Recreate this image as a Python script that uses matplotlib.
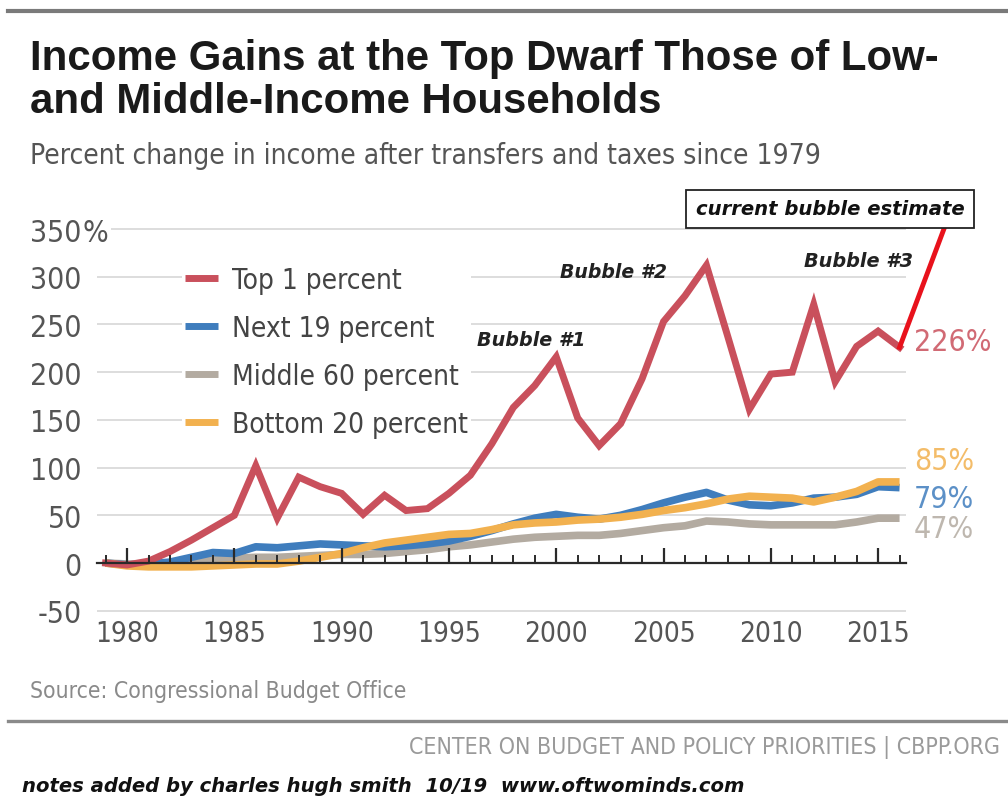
import matplotlib
matplotlib.use("Agg")
import matplotlib.pyplot as plt
from matplotlib import font_manager as fm
from matplotlib.lines import Line2D
from matplotlib.ticker import MultipleLocator, FixedLocator

# ---------------- data ----------------
years = list(range(1979, 2017))
top1 = [0, -2, 2, 12, 24, 37, 50, 102, 47, 90, 80, 73, 51, 71, 55, 57, 73, 92, 125,
        163, 186, 216, 152, 123, 146, 193, 253, 280, 312, 237, 161, 198, 200, 271,
        190, 227, 243, 226]
next19 = [0, -2, -1, 1, 6, 11, 10, 17, 16, 18, 20, 19, 18, 17, 18, 20, 23, 28, 34,
          41, 47, 51, 48, 46, 50, 56, 63, 69, 74, 66, 61, 60, 63, 68, 69, 72, 80, 79]
middle60 = [0, -1, -1, 0, 2, 4, 5, 6, 6, 7, 8, 9, 9, 10, 12, 14, 17, 19, 22,
            25, 27, 28, 29, 29, 31, 34, 37, 39, 44, 43, 41, 40, 40, 40, 40, 43, 47, 47]
bottom20 = [0, -3, -4, -4, -4, -3, -2, -1, -1, 2, 6, 10, 16, 21, 24, 27, 30, 31, 35,
            40, 42, 43, 45, 46, 48, 51, 55, 58, 62, 67, 70, 69, 68, 64, 69, 75, 85, 85]
bubble_years = [2016, 2018.1]
bubble_values = [226, 352]
series_labels = ["Top 1 percent", "Next 19 percent", "Middle 60 percent", "Bottom 20 percent"]
end_labels = ["226%", "79%", "47%", "85%"]
y_ticks = [-50, 0, 50, 100, 150, 200, 250, 300, 350]
x_major = [1980, 1985, 1990, 1995, 2000, 2005, 2010, 2015]

# ---------------- fonts ----------------
_names = {f.name for f in fm.fontManager.ttflist}
if "Liberation Sans Narrow" in _names:
    NARROW = dict(family="Liberation Sans Narrow")
    nscale = 1.0
elif any(f.name == "DejaVu Sans" and "ondensed" in f.fname for f in fm.fontManager.ttflist):
    NARROW = dict(family="DejaVu Sans", stretch="condensed")
    nscale = 0.82
else:
    NARROW = dict(family="Liberation Sans")
    nscale = 0.84

C_RED = "#c9505c"
C_BLUE = "#3f7dbd"
C_GRAY = "#b3aba1"
C_ORANGE = "#f2b14f"
C_BRIGHT = "#e8121c"

W, H = 1008, 803
def fx(x):
    return x / W
def fy(y):
    return 1 - y / H

fig = plt.figure(figsize=(W / 100, H / 100), dpi=100)
fig.patch.set_facecolor("white")

ax = fig.add_axes([fx(97), fy(617), fx(906) - fx(97), fy(228) - fy(617)])
ax.set_xlim(1978.6, 2016.3)
ax.set_ylim(-55.5, 352.1)

ax.plot(years, middle60, color=C_GRAY, lw=5.5, solid_capstyle="butt", zorder=2, label=series_labels[2])
ax.plot(years, next19, color=C_BLUE, lw=5.5, solid_capstyle="butt", zorder=2.1, label=series_labels[1])
ax.plot(years, bottom20, color=C_ORANGE, lw=5.5, solid_capstyle="butt", zorder=2.2, label=series_labels[3])
ax.plot(years, top1, color=C_RED, lw=5, solid_joinstyle="miter", zorder=2.3, label=series_labels[0])
ax.plot(bubble_years, bubble_values, color=C_BRIGHT, lw=3.5, zorder=2.4, clip_on=False)

# axes styling
for s in ["top", "right", "left"]:
    ax.spines[s].set_visible(False)
ax.spines["bottom"].set_position(("data", 0))
ax.spines["bottom"].set_color("#2a2a2a")
ax.spines["bottom"].set_linewidth(1.6)
ax.spines["bottom"].set_zorder(5)

YFS = 26.5 * nscale
XFS = 24.5 * nscale

ax.yaxis.set_major_locator(FixedLocator(y_ticks))
ax.set_yticklabels([str(v) for v in y_ticks])
ax.yaxis.grid(True, color="#dadada", lw=1.3)
ax.tick_params(axis="y", length=0, pad=11, labelcolor="#555555")
for lab in ax.get_yticklabels():
    lab.set_fontproperties(fm.FontProperties(size=YFS, **NARROW))

ax.xaxis.set_major_locator(FixedLocator(x_major))
ax.xaxis.set_minor_locator(MultipleLocator(1))
ax.set_xticklabels([str(v) for v in x_major])
ax.tick_params(axis="x", which="major", direction="in", length=11, width=1.6,
               color="#2a2a2a", pad=40, labelcolor="#555555")
ax.tick_params(axis="x", which="minor", direction="in", length=5.5, width=1.4, color="#2a2a2a")
for lab in ax.get_xticklabels():
    lab.set_fontproperties(fm.FontProperties(size=XFS, **NARROW))
ax.set_axisbelow(True)
ax.xaxis.set_zorder(5)
ax.yaxis.set_zorder(0.5)

# "%" after 350
fig.text(fx(83), fy(231), "%", ha="left", va="center_baseline", color="#555555",
         fontproperties=fm.FontProperties(size=YFS, **NARROW),
         bbox=dict(facecolor="white", edgecolor="none", pad=2))

# legend
handles, labels = ax.get_legend_handles_labels()
order = [labels.index(l) for l in series_labels]
leg = ax.legend([handles[i] for i in order], [labels[i] for i in order],
                loc="upper left", bbox_to_anchor=(fx(182), fy(264)),
                bbox_transform=fig.transFigure,
                prop=fm.FontProperties(size=24.5 * nscale, **NARROW),
                frameon=True, fancybox=False, framealpha=1, edgecolor="none",
                borderpad=0.1, borderaxespad=0, handlelength=1.2, handletextpad=0.5,
                labelspacing=0.72)
for t in leg.get_texts():
    t.set_color("#444444")
for lh in leg.legend_handles:
    lh.set_linewidth(5)
    lh.set_solid_capstyle("butt")
leg.set_zorder(6)

# end labels
end_colors = [C_RED, C_BLUE, C_GRAY, C_ORANGE]
end_y = [343, 500, 530, 462]
for txt, col, py in zip(end_labels, end_colors, end_y):
    fig.text(fx(914), fy(py), txt, ha="left", va="center", color=col, alpha=0.85,
             fontproperties=fm.FontProperties(size=YFS, **NARROW))

# bubble notes
bi = dict(family="DejaVu Sans", weight="bold", style="italic", size=11)
b1 = fig.text(fx(531), fy(340), "Bubble #1", ha="center", va="center", color="#222222", **bi)
b2 = fig.text(fx(613), fy(273), "Bubble #2", ha="center", va="center", color="#222222", **bi)
b3 = fig.text(fx(858), fy(262), "Bubble #3", ha="center", va="center", color="#222222", **bi)
cb = fig.text(fx(830), fy(210), "current bubble estimate", ha="center", va="center",
              color="#111111", zorder=7,
              bbox=dict(facecolor="white", edgecolor="#222222", lw=1.3,
                        boxstyle="square,pad=0.5"), **bi)

# titles and footer
t1 = fig.text(fx(30), fy(70), "Income Gains at the Top Dwarf Those of Low-", ha="left",
              va="baseline", color="#1a1a1a", family="Liberation Sans", weight="bold", size=26)
t2 = fig.text(fx(30), fy(113), "and Middle-Income Households", ha="left",
              va="baseline", color="#1a1a1a", family="Liberation Sans", weight="bold", size=26)
st = fig.text(fx(30), fy(164), "Percent change in income after transfers and taxes since 1979",
              ha="left", va="baseline", color="#555555", size=20, **NARROW)
src = fig.text(fx(30), fy(698), "Source: Congressional Budget Office", ha="left",
               va="baseline", color="#8a8a8a", size=12, **NARROW)
ctr = fig.text(fx(1000), fy(754), "CENTER ON BUDGET AND POLICY PRIORITIES | CBPP.ORG",
               ha="right", va="baseline", color="#9a9a9a", size=14, **NARROW)
nts = fig.text(fx(22), fy(792), "notes added by charles hugh smith  10/19  www.oftwominds.com",
               ha="left", va="baseline", color="#111111", family="DejaVu Sans",
               weight="bold", style="italic", size=14)

fig.add_artist(Line2D([fx(8), 1], [fy(12), fy(12)], transform=fig.transFigure,
                      color="#7a7a7a", lw=3))
fig.add_artist(Line2D([fx(8), 1], [fy(722), fy(722)], transform=fig.transFigure,
                      color="#8a8a8a", lw=2.4))

# fit text widths to the reference
fig.canvas.draw()
r = fig.canvas.get_renderer()
def fit(t, target):
    w = t.get_window_extent(r).width
    t.set_fontsize(t.get_fontsize() * target / w)

fit(t1, 910)
t2.set_fontsize(t1.get_fontsize())
fit(st, 790)
fit(src, 378)
fit(ctr, 595)
fit(nts, 723)
fit(b1, 108)
fit(b2, 107)
fit(b3, 109)
fit(cb, 268)

fig.savefig("out.png", dpi=100, facecolor="white")
